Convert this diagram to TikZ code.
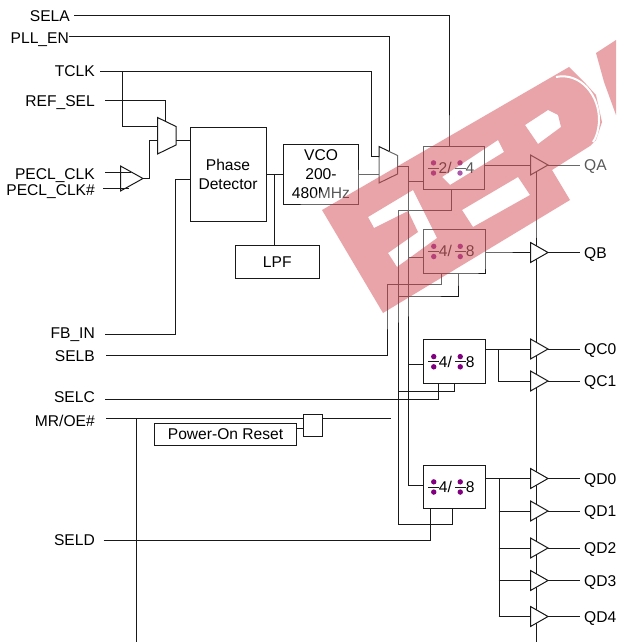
\documentclass[tikz,border=0pt]{standalone}
\usepackage{fontspec}
\setmainfont{Liberation Sans}
\usetikzlibrary{shapes.geometric}

\definecolor{dotpurple}{RGB}{128,0,128}
\definecolor{wirecol}{RGB}{25,25,25}
\definecolor{markred}{RGB}{200,30,40}

\newcommand{\sigfont}{\fontsize{15.6}{19}\selectfont}

\tikzset{
  wire/.style={draw=wirecol, line width=1pt},
  inlabel/.style={font=\sigfont, anchor=east, inner sep=0pt, text height=11pt, text depth=0pt},
  outlabel/.style={font=\sigfont, anchor=west, inner sep=0pt, text height=11pt, text depth=0pt},
  blockbox/.style={draw=wirecol, line width=1pt, rectangle, inner sep=0pt, outer sep=0pt, font=\sigfont, align=center},
  divbox/.style={blockbox, minimum width=61.5pt, minimum height=43.5pt},
  divdot/.style={fill=dotpurple},
  bufshape/.style={draw=wirecol, line width=1pt, fill=white, isosceles triangle, isosceles triangle stretches,
    minimum width=20pt, minimum height=17.5pt, inner sep=0pt, outer sep=0pt, anchor=lower side},
}

\begin{document}
\begin{tikzpicture}[x=1pt,y=-1pt]
    \useasboundingbox (0,0) rectangle (616,642);

    % --- INPUT LABELS ---
    \node[inlabel] (sela) at (70,16.5) {SELA};
    \node[inlabel] (pllen) at (69,38) {PLL\_EN};
    \node[inlabel] (tclk) at (95,71.5) {TCLK};
    \node[inlabel] (refsel) at (95,101) {REF\_SEL};
    \node[inlabel] (pclk) at (95,173.5) {PECL\_CLK};
    \node[inlabel] (pclkn) at (95,189.5) {PECL\_CLK\#};
    \node[inlabel] (fbin) at (95,332.5) {FB\_IN};
    \node[inlabel] (selb) at (95,355.5) {SELB};
    \node[inlabel] (selc) at (95,396.5) {SELC};
    \node[inlabel] (mroe) at (95,420.5) {MR/OE\#};
    \node[inlabel] (seld) at (95,539.5) {SELD};

    % --- BLOCKS ---
    \node[blockbox, minimum width=76pt, minimum height=93.5pt] (phase) at (228,174.5) {Phase\\Detector};
    \node[blockbox, minimum width=75pt, minimum height=60pt] (vco) at (321,174.5) {VCO\\200-\\480MHz};
    \node[blockbox, minimum width=84.5pt, minimum height=32.5pt] (lpf) at (277.25,261.75) {LPF};
    \node[blockbox, minimum width=142pt, minimum height=21.5pt] (por) at (225.5,434.25) {Power-On Reset};
    \node[blockbox, minimum width=19.5pt, minimum height=21.5pt] (gate) at (312.75,425.25) {};

    % room is left in the text for the drawn divide signs
    \node[divbox] (divA) at (454,167.75) {\hspace{11pt}2/\kern3pt\hspace{11pt}4\kern6pt};
    \node[divbox] (divB) at (454.25,251.25) {\hspace{11pt}4/\kern3pt\hspace{11pt}8\kern6pt};
    \node[divbox] (divC) at (454.25,361.5) {\hspace{11pt}4/\kern3pt\hspace{11pt}8\kern6pt};
    \node[divbox] (divD) at (454.25,486.75) {\hspace{11pt}4/\kern3pt\hspace{11pt}8\kern6pt};

    % divide signs: bar and two dots
    \foreach \bx in {divA,divB,divC,divD} {
        \foreach \dx in {-20.5,6} {
            \draw[wire] ([shift={({\dx-5.5},.3)}]\bx.center) -- ([shift={({\dx+5.5},.3)}]\bx.center);
            \fill[divdot] ([shift={(\dx,-4.9)}]\bx.center) circle (2.7);
            \fill[divdot] ([shift={(\dx,5.3)}]\bx.center) circle (2.7);
        }
    }

    % --- MUXES ---
    \draw[wire] (157.5,117.5) -- (176,126.5) -- (176,145) -- (157.5,154) -- cycle;
    \coordinate (muxLtop) at (165,121.2);
    \coordinate (muxLa) at (157.5,126);
    \coordinate (muxLb) at (157.5,140);
    \coordinate (muxLout) at (176,140);

    \draw[wire] (379,146.5) -- (397.5,155.5) -- (397.5,174) -- (379,183) -- cycle;
    \coordinate (muxRtop) at (389,151.4);
    \coordinate (muxRa) at (379,156);
    \coordinate (muxRb) at (379,174.5);
    \coordinate (muxRout) at (397.5,166);

    % --- OUTPUT BUFFERS ---
    % enable line runs behind the white triangles
    \coordinate (oeTop) at (536.5,172);
    \coordinate (oeEnd) at (536.5,642);
    \draw[wire] (oeTop) -- (oeEnd);

    \foreach \nm/\yy/\txt in {A/165/QA, B/252.5/QB, Cz/349/QC0, Co/381/QC1, Dz/478.5/QD0,
                              Do/511/QD1, Dt/548/QD2, Dh/580.5/QD3, Df/616.5/QD4} {
        \node[bufshape] (buf\nm) at (530.5,\yy) {};
        \node[outlabel] (out\nm) at (584,\yy) {\txt};
        \draw[wire] (buf\nm.apex) -- ([xshift=-4]out\nm.west);
    }

    % --- INPUT SIDE WIRES ---
    \node[bufshape, minimum width=25pt, minimum height=22.5pt] (bufIn) at (120.5,178.5) {};
    \draw[wire] ([shift={(10,-1.5)}]pclk.east) -- ([shift={(10,-1.5)}]pclk.east -| bufIn.lower side);
    \draw[wire] ([shift={(8,-1)}]pclkn.east) -- ([shift={(8,-1)}]pclkn.east -| bufIn.lower side);
    \coordinate (inJog) at (149,178.5);
    \draw[wire] (bufIn.apex) -- (inJog) |- (muxLb);

    \coordinate (tclkJ) at (122,71);
    \coordinate (tclkDn) at (371,156);
    \draw[wire] ([shift={(5,-.5)}]tclk.east) -| (tclkDn) -- (muxRa);
    \draw[wire] (tclkJ) |- (muxLa);
    \draw[wire] ([shift={(10,-1)}]refsel.east) -| (muxLtop);
    \draw[wire] (muxLout) -- (muxLout -| phase.west);

    \draw[wire] ([shift={(10,1.5)}]fbin.east) -| (175,179) -- (phase.west |- 175,179);

    \coordinate (lpfJ) at (274,174.5);
    \draw[wire] (phase.east) -- (vco.west);
    \draw[wire] (lpfJ) -- (lpfJ |- lpf.north);
    \draw[wire] (vco.east) -- (muxRb);

    \draw[wire] ([shift={(4,-.5)}]sela.east) -| ([xshift=-5]divA.north);
    \draw[wire] ([shift={(0,-1)}]pllen.east) -| (muxRtop);

    % --- RESET ---
    \coordinate (oeJ) at (136.5,418.5);
    \coordinate (oeDn) at (136.5,642);
    \draw[wire] ([shift={(11,-2)}]mroe.east) -- (gate.west |- oeJ);
    \draw[wire] (oeJ) -- (oeDn);
    \draw[wire] (gate.east |- oeJ) -- (390.5,418.5);
    \draw[wire] (por.east |- 0,428.5) -- (gate.west |- 0,428.5);

    % --- CLOCK BUSES ---
    \coordinate (busRb) at (408,485);
    \coordinate (busLt) at (398,210);
    \coordinate (busLb) at (398,524);
    \draw[wire] (muxRout) -| (busRb) -- (busRb -| divD.west);
    \draw[wire] (408,181) -- (divA.west |- 408,181);
    \draw[wire] (408,257.5) -- (divB.west |- 408,257.5);
    \draw[wire] (408,364.5) -- (divC.west |- 408,364.5);

    \draw[wire] ([xshift=-2.5]divA.south) |- (busLt) -- (busLb) -| ([xshift=-2.25]divD.south);
    \draw[wire] (398,296) -| ([xshift=4.25]divB.south);
    \draw[wire] (398,391.5) -| ([xshift=-.25]divC.south);

    % --- SELECT LINES ---
    \draw[wire] ([shift={(11,-.5)}]selb.east) -| (387,284) -| ([xshift=-12.75]divB.south);
    \draw[wire] ([shift={(10,2.5)}]selc.east) -| ([xshift=-16.25]divC.south);
    \draw[wire] ([shift={(8.5,1)}]seld.east) -| ([xshift=-24.25]divD.south);

    % --- DIVIDER OUTPUTS ---
    \draw[wire] (divA.east |- bufA.lower side) -- (bufA.lower side);
    \draw[wire] (divB.east |- bufB.lower side) -- (bufB.lower side);
    \draw[wire] (divC.east |- bufCz.lower side) -- (bufCz.lower side);
    \draw[wire] (498.5,349) |- (bufCo.lower side);
    \draw[wire] (divD.east |- bufDz.lower side) -- (bufDz.lower side);
    \draw[wire] (499.5,478.5) -- (499.5,616.5);
    \foreach \nm in {Do,Dt,Dh,Df}
        \draw[wire] (498.5,0 |- buf\nm.lower side) -- (buf\nm.lower side);

    % --- WATERMARK ---
    \fill[white, opacity=.35] (300,205) -- (575,40) -- (616,15) -- (616,175) -- (590,205) -- (383,332) -- cycle;
    \fill[markred, opacity=.4, even odd rule]
        (322,210) -- (569,67) -- (586,84) -- (596,95) -- (602,122) -- (596,140) -- (590,146)
        -- (552,170) -- (570,200) -- (383,313) -- cycle
        % letter gaps
        (368,217) -- (413,190) -- (437,238) -- (397,267) -- (388,253) -- (418,232) -- (408,211) -- (374,228) -- cycle
        (442,177) -- (498,140) -- (504,152) -- (450,185) -- cycle
        (462,210) -- (518,177) -- (530,195) -- (473,227) -- cycle
        (525,125) -- (548,110) -- (558,115) -- (561,127) -- (538,144) -- cycle;
    \fill[markred, opacity=.4] (596,53) -- (616,40) -- (616,115) -- (604,82) -- cycle;
    \draw[white, line width=2pt] (556,77) .. controls (580,72) and (600,95) .. (599,122)
        .. controls (598,132) and (596,138) .. (593,142);

\end{tikzpicture}
\end{document}
